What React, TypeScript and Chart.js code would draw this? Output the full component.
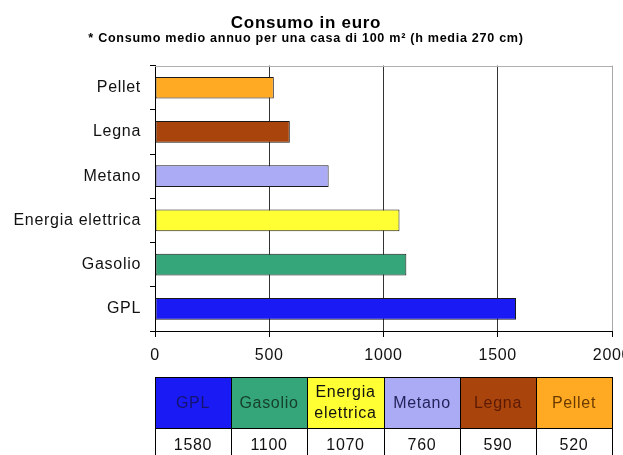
import React, { useEffect, useRef } from "react";
import { Chart, registerables } from "chart.js";

Chart.register(...registerables);

const categories = ["GPL", "Gasolio", "Energia elettrica", "Metano", "Legna", "Pellet"];
const costs = [1580, 1100, 1070, 760, 590, 520];
const fillColors = ["#1a1af5", "#35a57a", "#ffff33", "#aaaaf5", "#a9450c", "#ffaa22"];
const tableTextColors = ["#14146e", "#16402c", "#111111", "#23235c", "#5c1a04", "#6a3a00"];
const xMin = 0;
const xMax = 2000;
const xStep = 500;

const titleText = "Consumo in euro";
const subtitleText = "* Consumo medio annuo per una casa di 100 m\u00b2 (h media 270 cm)";

const FONT = "'Liberation Sans', Arial, sans-serif";
const SPACING = "0.7px";

const spacingPlugin = {
  id: "spacing",
  beforeLayout(chart: any) {
    chart.ctx.letterSpacing = SPACING;
  },
  beforeDraw(chart: any) {
    chart.ctx.letterSpacing = SPACING;
  },
};

const framePlugin = {
  id: "frame",
  afterDatasetsDraw(chart: any) {
    const { ctx, chartArea } = chart;
    ctx.save();
    ctx.strokeStyle = "#b0b0b0";
    ctx.lineWidth = 1;
    ctx.beginPath();
    ctx.moveTo(chartArea.left, Math.round(chartArea.top) + 0.5);
    ctx.lineTo(chartArea.right, Math.round(chartArea.top) + 0.5);
    ctx.stroke();
    ctx.restore();
  },
};

const tablePlugin = {
  id: "dataTable",
  afterDraw(chart: any) {
    const { ctx, chartArea } = chart;
    const left = chartArea.left;
    const colW = (chartArea.right - chartArea.left) / categories.length;
    const top = Math.round(chartArea.bottom) + 46;
    const headH = 51;
    const rowH = 36;
    ctx.save();
    ctx.letterSpacing = SPACING;
    ctx.font = `16px ${FONT}`;
    ctx.textAlign = "center";
    ctx.textBaseline = "middle";
    categories.forEach((cat, i) => {
      const x = Math.round(left + i * colW);
      const x2 = Math.round(left + (i + 1) * colW);
      ctx.fillStyle = fillColors[i];
      ctx.fillRect(x, top, x2 - x, headH);
      ctx.fillStyle = "#ffffff";
      ctx.fillRect(x, top + headH, x2 - x, rowH);
      ctx.strokeStyle = "#000";
      ctx.lineWidth = 1;
      ctx.strokeRect(x + 0.5, top + 0.5, x2 - x, headH);
      ctx.strokeRect(x + 0.5, top + headH + 0.5, x2 - x, rowH);
      const cx = (x + x2) / 2;
      ctx.fillStyle = tableTextColors[i];
      const words = cat.split(" ");
      if (ctx.measureText(cat).width > colW - 6 && words.length > 1) {
        ctx.fillText(words[0], cx, top + headH / 2 - 10);
        ctx.fillText(words.slice(1).join(" "), cx, top + headH / 2 + 11);
      } else {
        ctx.fillText(cat, cx, top + headH / 2 + 1);
      }
      ctx.fillStyle = "#111";
      ctx.fillText(String(costs[i]), cx, top + headH + 18);
    });
    ctx.restore();
  },
};

export default function App() {
  const canvasRef = useRef<HTMLCanvasElement | null>(null);

  useEffect(() => {
    const canvas = canvasRef.current;
    if (!canvas) return;
    const chart = new Chart(canvas, {
      type: "bar",
      data: {
        labels: categories,
        datasets: [
          {
            data: costs,
            backgroundColor: fillColors,
            borderColor: "#1a1a1a",
            borderWidth: 1,
            borderSkipped: false,
            barPercentage: 0.49,
            categoryPercentage: 1,
          },
        ],
      },
      options: {
        indexAxis: "y",
        responsive: false,
        animation: false,
        devicePixelRatio: 1,
        layout: { padding: { left: 0, right: 11, top: 0, bottom: 0 } },
        plugins: {
          legend: { display: false },
          tooltip: { enabled: false },
          title: {
            display: true,
            text: titleText,
            color: "#000",
            font: { family: FONT, size: 17, weight: "bold", lineHeight: 1 },
            padding: { top: 15, bottom: 0 },
          },
          subtitle: {
            display: true,
            text: subtitleText,
            color: "#000",
            font: { family: FONT, size: 12.6, weight: "bold", lineHeight: 1 },
            padding: { top: 0, bottom: 21 },
          },
        },
        scales: {
          x: {
            type: "linear",
            min: xMin,
            max: xMax,
            ticks: {
              stepSize: xStep,
              color: "#111",
              padding: 9,
              font: { family: FONT, size: 16 },
              callback: (v: any) => String(v),
            },
            grid: {
              color: (c: any) =>
                c.tick && c.tick.value === xMax ? "#a8a8a8" : c.tick && c.tick.value === xMin ? "#000" : "#333",
              tickColor: "#000",
              tickLength: 6,
              lineWidth: 1,
            },
            border: { display: true, color: "#000", width: 1 },
            afterFit: (scale: any) => {
              scale.height = 124;
              scale.paddingLeft = 0;
              scale.paddingRight = 0;
            },
          },
          y: {
            type: "category",
            reverse: true,
            ticks: {
              color: "#111",
              padding: 9,
              font: { family: FONT, size: 16 },
            },
            grid: {
              drawOnChartArea: false,
              offset: true,
              tickLength: 5,
              color: "#000",
            },
            border: { display: true, color: "#000", width: 1 },
            afterFit: (scale: any) => {
              scale.width = 155;
              scale.paddingTop = 0;
              scale.paddingBottom = 0;
            },
          },
        },
      },
      plugins: [spacingPlugin, framePlugin, tablePlugin],
    } as any);
    return () => chart.destroy();
  }, []);

  return (
    <div style={{ position: "absolute", left: 0, top: 0, width: 623, height: 455, background: "#fff" }}>
      <canvas ref={canvasRef} width={623} height={455} style={{ width: 623, height: 455, display: "block" }} />
    </div>
  );
}
